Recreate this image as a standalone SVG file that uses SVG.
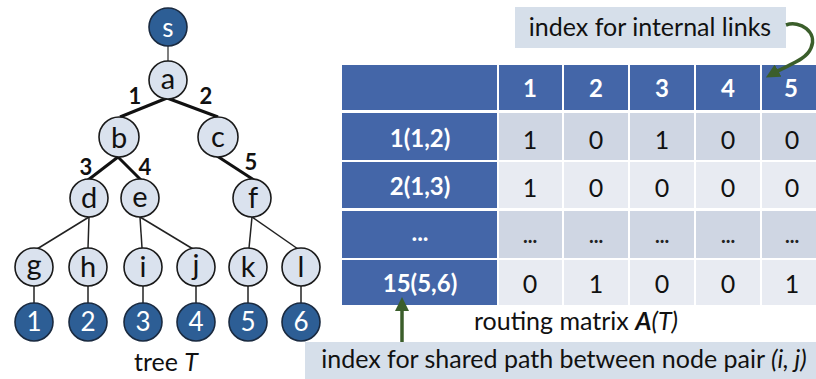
<svg xmlns="http://www.w3.org/2000/svg" width="816" height="379" viewBox="0 0 816 379">
<defs>
<style>
.t{font-family:Lato,"Open Sans","Liberation Sans",sans-serif;}
.ln{fill:#DAE2EE;stroke:#1a1a1a;stroke-width:1.6;}
.dn{fill:#2D5E95;stroke:#1a2a40;stroke-width:1.6;}
.nl{font-size:29px;fill:#111;text-anchor:middle;}
.nd{font-size:26px;fill:#fff;text-anchor:middle;}
.thick{stroke:#111;stroke-width:3;fill:none;}
.thin{stroke:#222;stroke-width:1.5;fill:none;}
.el{font-size:22px;font-weight:bold;fill:#111;text-anchor:middle;}
.hb{fill:#4466A8;}
.c1{fill:#CFD6E3;}
.c2{fill:#E8EBF2;}
.ht{font-size:24px;font-weight:bold;fill:#fff;text-anchor:middle;}
.dt{font-size:25px;fill:#111;text-anchor:middle;}
.dd{font-size:20px;font-weight:bold;fill:#222;text-anchor:middle;}
.lb{fill:#D6DFEA;}
.cap{font-size:25px;fill:#111;}
</style>
<marker id="ga" viewBox="0 0 10 10" refX="5" refY="5" markerWidth="4" markerHeight="4" orient="auto-start-reverse">
<path d="M0,0 L10,5 L0,10 z" fill="#3B5E2B"/>
</marker>
</defs>

<g id="connectors">
<line x1="168" y1="45" x2="168" y2="61" stroke="#555" stroke-width="1.5"/>
<line class="thick" x1="167" y1="98" x2="120" y2="117"/>
<line class="thick" x1="167" y1="98" x2="218" y2="117"/>
<line class="thick" x1="118" y1="157" x2="88" y2="180"/>
<line class="thick" x1="118" y1="157" x2="141" y2="180"/>
<line class="thick" x1="217" y1="156" x2="254" y2="180"/>
<line class="thin" x1="89" y1="217" x2="37" y2="249"/>
<line class="thin" x1="89" y1="217" x2="88" y2="248"/>
<line class="thin" x1="140" y1="217" x2="142" y2="248"/>
<line class="thin" x1="140" y1="217" x2="193" y2="249"/>
<line class="thin" x1="252" y1="217" x2="249" y2="248"/>
<line class="thin" x1="252" y1="217" x2="298" y2="249"/>
<line class="thin" x1="34" y1="286" x2="34" y2="304"/>
<line class="thin" x1="88" y1="286" x2="88" y2="304"/>
<line class="thin" x1="143" y1="286" x2="143" y2="304"/>
<line class="thin" x1="196" y1="286" x2="196" y2="304"/>
<line class="thin" x1="248" y1="286" x2="248" y2="304"/>
<line class="thin" x1="301" y1="286" x2="301" y2="304"/>
<text class="t el" x="135" y="104">1</text>
<text class="t el" x="206" y="104">2</text>
<text class="t el" x="86" y="175">3</text>
<text class="t el" x="145" y="175">4</text>
<text class="t el" x="251" y="170">5</text>
</g>

<g id="s"><circle class="dn" cx="168" cy="27" r="19"/><text class="t nd" x="168" y="37" font-size="28">s</text></g>
<g id="a"><circle class="ln" cx="168" cy="80" r="19"/><text class="t nl" x="168" y="89">a</text></g>
<g id="b"><circle class="ln" cx="119" cy="137" r="20"/><text class="t nl" x="119" y="148">b</text></g>
<g id="c"><circle class="ln" cx="218" cy="137" r="20"/><text class="t nl" x="218" y="147">c</text></g>
<g id="d"><circle class="ln" cx="89" cy="198" r="19"/><text class="t nl" x="89" y="208">d</text></g>
<g id="e"><circle class="ln" cx="140" cy="198" r="19"/><text class="t nl" x="140" y="207">e</text></g>
<g id="f"><circle class="ln" cx="252" cy="198" r="19"/><text class="t nl" x="253" y="208">f</text></g>
<g id="g"><circle class="ln" cx="34" cy="267" r="19"/><text class="t nl" x="34" y="275">g</text></g>
<g id="h"><circle class="ln" cx="88" cy="267" r="19"/><text class="t nl" x="88" y="277">h</text></g>
<g id="i"><circle class="ln" cx="143" cy="267" r="19"/><text class="t nl" x="143" y="277">i</text></g>
<g id="j"><circle class="ln" cx="196" cy="267" r="19"/><text class="t nl" x="196" y="275">j</text></g>
<g id="k"><circle class="ln" cx="248" cy="267" r="19"/><text class="t nl" x="248" y="277">k</text></g>
<g id="l"><circle class="ln" cx="301" cy="267" r="19"/><text class="t nl" x="301" y="277">l</text></g>
<g id="n1"><circle class="dn" cx="34" cy="322" r="19"/><text class="t nd" x="34" y="331">1</text></g>
<g id="n2"><circle class="dn" cx="88" cy="322" r="19"/><text class="t nd" x="88" y="331">2</text></g>
<g id="n3"><circle class="dn" cx="143" cy="322" r="19"/><text class="t nd" x="143" y="331">3</text></g>
<g id="n4"><circle class="dn" cx="196" cy="322" r="19"/><text class="t nd" x="196" y="331">4</text></g>
<g id="n5"><circle class="dn" cx="248" cy="322" r="19"/><text class="t nd" x="248" y="331">5</text></g>
<g id="n6"><circle class="dn" cx="301" cy="322" r="19"/><text class="t nd" x="301" y="331">6</text></g>
<text class="t cap" x="166" y="371" text-anchor="middle" font-size="23">tree <tspan font-style="italic">T</tspan></text>

<g id="table">
<rect class="hb" x="342" y="65" width="155" height="45"/>
<rect class="hb" x="499" y="65" width="63" height="45"/>
<rect class="hb" x="564" y="65" width="64" height="45"/>
<rect class="hb" x="630" y="65" width="64" height="45"/>
<rect class="hb" x="696" y="65" width="64" height="45"/>
<rect class="hb" x="762" y="65" width="54" height="45"/>
<text class="t ht" x="530" y="97">1</text>
<text class="t ht" x="596" y="97">2</text>
<text class="t ht" x="662" y="97">3</text>
<text class="t ht" x="728" y="97">4</text>
<text class="t ht" x="791" y="97">5</text>

<rect class="hb" x="342" y="113" width="155" height="47"/>
<rect class="c1" x="499" y="113" width="63" height="47"/>
<rect class="c1" x="564" y="113" width="64" height="47"/>
<rect class="c1" x="630" y="113" width="64" height="47"/>
<rect class="c1" x="696" y="113" width="64" height="47"/>
<rect class="c1" x="762" y="113" width="54" height="47"/>
<text class="t ht" x="420" y="147">1(1,2)</text>
<text class="t dt" x="530" y="149">1</text>
<text class="t dt" x="596" y="149">0</text>
<text class="t dt" x="662" y="149">1</text>
<text class="t dt" x="728" y="149">0</text>
<text class="t dt" x="792" y="149">0</text>

<rect class="hb" x="342" y="162" width="155" height="46"/>
<rect class="c2" x="499" y="162" width="63" height="46"/>
<rect class="c2" x="564" y="162" width="64" height="46"/>
<rect class="c2" x="630" y="162" width="64" height="46"/>
<rect class="c2" x="696" y="162" width="64" height="46"/>
<rect class="c2" x="762" y="162" width="54" height="46"/>
<text class="t ht" x="420" y="195">2(1,3)</text>
<text class="t dt" x="530" y="197">1</text>
<text class="t dt" x="596" y="197">0</text>
<text class="t dt" x="662" y="197">0</text>
<text class="t dt" x="728" y="197">0</text>
<text class="t dt" x="792" y="197">0</text>

<rect class="hb" x="342" y="211" width="155" height="47"/>
<rect class="c1" x="499" y="211" width="63" height="47"/>
<rect class="c1" x="564" y="211" width="64" height="47"/>
<rect class="c1" x="630" y="211" width="64" height="47"/>
<rect class="c1" x="696" y="211" width="64" height="47"/>
<rect class="c1" x="762" y="211" width="54" height="47"/>
<text class="t ht" x="420" y="241">...</text>
<text class="t dd" x="530" y="243">...</text>
<text class="t dd" x="596" y="243">...</text>
<text class="t dd" x="662" y="243">...</text>
<text class="t dd" x="728" y="243">...</text>
<text class="t dd" x="792" y="243">...</text>

<rect class="hb" x="342" y="260" width="155" height="45"/>
<rect class="c2" x="499" y="260" width="63" height="45"/>
<rect class="c2" x="564" y="260" width="64" height="45"/>
<rect class="c2" x="630" y="260" width="64" height="45"/>
<rect class="c2" x="696" y="260" width="64" height="45"/>
<rect class="c2" x="762" y="260" width="54" height="45"/>
<text class="t ht" x="420" y="292">15(5,6)</text>
<text class="t dt" x="530" y="293">0</text>
<text class="t dt" x="596" y="293">1</text>
<text class="t dt" x="662" y="293">0</text>
<text class="t dt" x="728" y="293">0</text>
<text class="t dt" x="792" y="293">1</text>
</g>
<text class="t cap" x="576" y="330" text-anchor="middle">routing matrix <tspan font-weight="bold" font-style="italic">A</tspan><tspan font-style="italic">(T)</tspan></text>

<g id="label-links">
<rect class="lb" x="515" y="7" width="271" height="41"/>
<text class="t cap" x="650" y="36" text-anchor="middle" font-size="26">index for internal links</text>
</g>
<g id="label-pairs">
<rect class="lb" x="305" y="342" width="511" height="37"/>
<text class="t cap" x="564" y="368" text-anchor="middle" font-size="26.5">index for shared path between node pair <tspan font-style="italic">(i, j)</tspan></text>
</g>
<g id="arrows">
<path d="M786,25 C800,20 818,32 811,48 C806,60 790,64 772,74" fill="none" stroke="#3B5E2B" stroke-width="3.5" marker-end="url(#ga)"/>
<line x1="402" y1="342" x2="402" y2="304" stroke="#3B5E2B" stroke-width="3.5" marker-end="url(#ga)"/>
</g>
</svg>
